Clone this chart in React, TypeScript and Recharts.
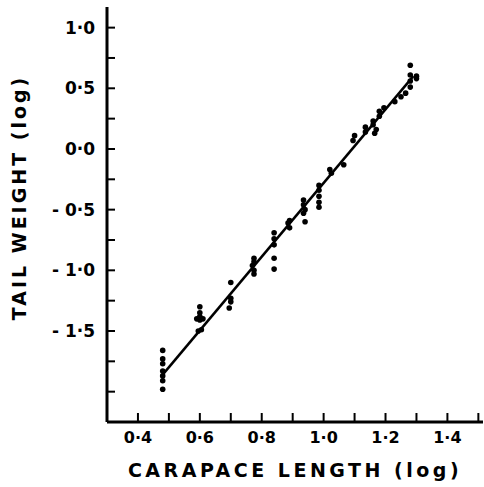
import React from "react";
import { ScatterChart, Scatter, XAxis, YAxis, Label } from "recharts";

// log carapace length / log tail weight
const carapaceLog = [
  0.48, 0.48, 0.48, 0.48, 0.48, 0.48, 0.48,
  0.6, 0.6, 0.6, 0.59, 0.61, 0.6, 0.595, 0.605,
  0.7, 0.7, 0.7, 0.695,
  0.775, 0.775, 0.77, 0.775, 0.775,
  0.84, 0.84, 0.84, 0.84, 0.84,
  0.89, 0.885, 0.89,
  0.935, 0.935, 0.94, 0.935, 0.94,
  0.985, 0.985, 0.985, 0.985, 0.985,
  1.02, 1.025, 1.065,
  1.1, 1.095, 1.135, 1.135,
  1.16, 1.16, 1.165, 1.17, 1.18, 1.18, 1.195,
  1.23, 1.25, 1.265,
  1.28, 1.28, 1.28, 1.28, 1.3, 1.3,
];
const tailLog = [
  -1.66, -1.73, -1.77, -1.83, -1.87, -1.91, -1.98,
  -1.3, -1.35, -1.38, -1.4, -1.4, -1.41, -1.5, -1.49,
  -1.1, -1.23, -1.26, -1.31,
  -0.9, -0.93, -0.96, -1.0, -1.03,
  -0.69, -0.74, -0.79, -0.9, -0.99,
  -0.59, -0.61, -0.65,
  -0.42, -0.46, -0.5, -0.53, -0.6,
  -0.3, -0.34, -0.39, -0.44, -0.48,
  -0.17, -0.2, -0.13,
  0.11, 0.07, 0.18, 0.14,
  0.23, 0.2, 0.13, 0.16, 0.27, 0.31, 0.34,
  0.39, 0.43, 0.46,
  0.51, 0.56, 0.61, 0.69, 0.6, 0.58,
];
// fitted regression line ends
const fitX = [0.48, 1.29];
const fitY = [-1.86, 0.6];

const xTicks = [0.4, 0.5, 0.6, 0.7, 0.8, 0.9, 1.0, 1.1, 1.2, 1.3, 1.4, 1.5];
const xLabelled = [0.4, 0.6, 0.8, 1.0, 1.2, 1.4];
const yTicks = [-2, -1.75, -1.5, -1.25, -1, -0.75, -0.5, -0.25, 0, 0.25, 0.5, 0.75, 1];
const yLabelled = [-1.5, -1, -0.5, 0, 0.5, 1];

const points = carapaceLog.map((x, i) => ({ x, y: tailLog[i] }));
const fitLine = fitX.map((x, i) => ({ x, y: fitY[i] }));

const FONT = "'DejaVu Sans', sans-serif";
const Y_GAP = 12;
const TICK_LEN = 8;

const fmt = (v: number) => {
  const s = Math.abs(v).toFixed(1).replace(".", "·");
  return v < 0 ? "- " + s : s;
};
const has = (arr: number[], v: number) => arr.some((a) => Math.abs(a - v) < 1e-6);

const YTick = (props: any) => {
  const { x, y, payload } = props;
  const v = payload.value;
  return (
    <g>
      <line x1={x + Y_GAP} x2={x + Y_GAP + TICK_LEN} y1={y} y2={y} stroke="#000" strokeWidth={2} />
      {has(yLabelled, v) && (
        <text x={x} y={y} dy={6} textAnchor="end" fontFamily={FONT} fontWeight="bold" fontSize={17} fill="#000">
          {fmt(v)}
        </text>
      )}
    </g>
  );
};

const XTick = (props: any) => {
  const { x, y, payload } = props;
  const v = payload.value;
  return (
    <g>
      <line x1={x} x2={x} y1={y} y2={y - 9} stroke="#000" strokeWidth={2} />
      {has(xLabelled, v) && (
        <text x={x} y={y} dy={21} textAnchor="middle" fontFamily={FONT} fontWeight="bold" fontSize={16} fill="#000">
          {fmt(v)}
        </text>
      )}
    </g>
  );
};

const YTitle = (props: any) => {
  const { x, y, height } = props.viewBox;
  const cx = x + 19;
  const cy = y + height / 2 - 17;
  return (
    <text
      x={cx}
      y={cy}
      transform={`rotate(-90 ${cx} ${cy})`}
      textAnchor="middle"
      dominantBaseline="central"
      fontFamily={FONT}
      fontWeight="bold"
      fontSize={19}
      letterSpacing={3}
      fill="#000"
    >
      TAIL WEIGHT (log)
    </text>
  );
};

const Dot = (p: any) => <circle cx={p.cx} cy={p.cy} r={2.8} fill="#000" />;

export default function App() {
  return (
    <div style={{ position: "absolute", left: 0, top: 0, background: "#fff" }}>
      <ScatterChart width={484} height={487} margin={{ top: 7, right: 1, bottom: 0, left: 0 }}>
        <XAxis
          type="number"
          dataKey="x"
          domain={[0.3, 1.515]}
          ticks={xTicks}
          interval={0}
          allowDataOverflow
          height={65}
          tickSize={0}
          tickMargin={0}
          tick={<XTick />}
          axisLine={{ stroke: "#000", strokeWidth: 3 }}
          tickLine={false}
        >
          <Label
            value="CARAPACE LENGTH (log)"
            position="insideBottom"
            offset={10}
            style={{ fontFamily: FONT, fontWeight: "bold", fontSize: 19, letterSpacing: 3.5, fill: "#000" }}
          />
        </XAxis>
        <YAxis
          type="number"
          dataKey="y"
          domain={[-2.25, 1.17]}
          ticks={yTicks}
          interval={0}
          allowDataOverflow
          width={107}
          tickSize={0}
          tickMargin={Y_GAP}
          tick={<YTick />}
          axisLine={{ stroke: "#000", strokeWidth: 3 }}
          tickLine={false}
          label={{ content: <YTitle /> }}
        />
        <Scatter data={points} shape={<Dot />} isAnimationActive={false} />
        <Scatter
          data={fitLine}
          line={{ stroke: "#000", strokeWidth: 2.5 }}
          shape={() => <g />}
          isAnimationActive={false}
        />
      </ScatterChart>
    </div>
  );
}
